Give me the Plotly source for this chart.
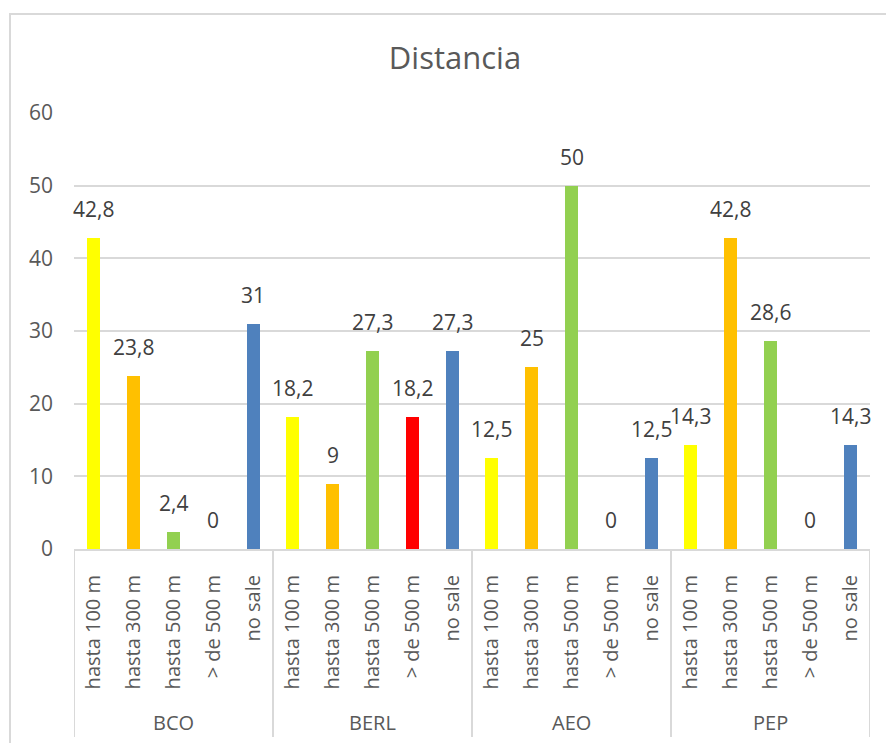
import plotly.graph_objects as go

# Data: share of respondents (%) by distance band, for each group
groups = ["BCO", "BERL", "AEO", "PEP"]
bands = ["hasta 100 m", "hasta 300 m", "hasta 500 m", "> de 500 m", "no sale"]
band_colors = ["#FFFF00", "#FFC000", "#92D050", "#FF0000", "#4F81BD"]

bco = [42.8, 23.8, 2.4, 0, 31]
berl = [18.2, 9, 27.3, 18.2, 27.3]
aeo = [12.5, 25, 50, 0, 12.5]
pep = [14.3, 42.8, 28.6, 0, 14.3]

y_ticks = [0, 10, 20, 30, 40, 50, 60]

series = [bco, berl, aeo, pep]
values = [v for grp in series for v in grp]
xs = list(range(len(values)))
labels = [b for _ in groups for b in bands]
colors = [c for _ in groups for c in band_colors]


def fmt(v):
    return f"{v:g}".replace(".", ",")


GRID = "#d9d9d9"
TXT = "#595959"
FONT = "Open Sans"

# plot-area geometry in pixels (used to place decorations in paper units)
W, H = 886, 743
ML, MR, MT, MB = 74, 16, 113, 194
PW, PH = W - ML - MR, H - MT - MB


def px_x(p):
    return (p - ML) / PW


def px_y(p):
    return (H - MB - p) / PH


fig = go.Figure()
fig.add_trace(go.Bar(
    x=xs, y=values, width=0.33,
    marker=dict(color=colors, line=dict(width=0)),
    hoverinfo="skip",
))

annotations = []
for x, v in zip(xs, values):
    annotations.append(dict(
        x=x, y=v, xref="x", yref="y", text=fmt(v), showarrow=False,
        yanchor="bottom", yshift=13,
        font=dict(family=FONT, size=21, color="#404040"),
    ))

# group names under the rotated category labels
n = len(bands)
for gi, g in enumerate(groups):
    annotations.append(dict(
        x=gi * n + (n - 1) / 2, y=px_y(722), xref="x", yref="paper",
        text=g, showarrow=False, yanchor="middle",
        font=dict(family=FONT, size=20, color=TXT),
    ))

shapes = []
# group dividers below the axis
for gi in range(len(groups) + 1):
    shapes.append(dict(
        type="line", xref="x", yref="paper",
        x0=gi * n - 0.5, x1=gi * n - 0.5, y0=0, y1=px_y(737),
        line=dict(color=GRID, width=2),
    ))
# chart frame
shapes.append(dict(
    type="rect", xref="paper", yref="paper",
    x0=px_x(10), x1=px_x(W + 20), y0=px_y(14), y1=px_y(H + 20),
    line=dict(color=GRID, width=2), fillcolor="rgba(0,0,0,0)", layer="below",
))

fig.update_layout(
    width=W, height=H,
    margin=dict(l=ML, r=MR, t=MT, b=MB, pad=0),
    paper_bgcolor="white", plot_bgcolor="white",
    showlegend=False,
    title=dict(
        text="Distancia", x=px_x(455), xref="paper", xanchor="center",
        y=1 - 58 / H, yref="container", yanchor="middle",
        font=dict(family=FONT, size=31, color=TXT),
    ),
    xaxis=dict(
        range=[-0.5, len(values) - 0.5],
        tickmode="array", tickvals=xs, ticktext=labels,
        tickangle=-90, ticks="", ticklabelstandoff=16,
        showgrid=False, zeroline=False,
        showline=True, linecolor=GRID, linewidth=2,
        tickfont=dict(family=FONT, size=20, color=TXT),
    ),
    yaxis=dict(
        range=[0, 60], tickvals=y_ticks, ticks="",
        showgrid=True, gridcolor=GRID, gridwidth=2,
        zeroline=False, showline=False, ticklabelstandoff=20,
        tickfont=dict(family=FONT, size=21, color=TXT),
    ),
    annotations=annotations,
    shapes=shapes,
    bargap=0,
)

fig.write_html("out.html")
